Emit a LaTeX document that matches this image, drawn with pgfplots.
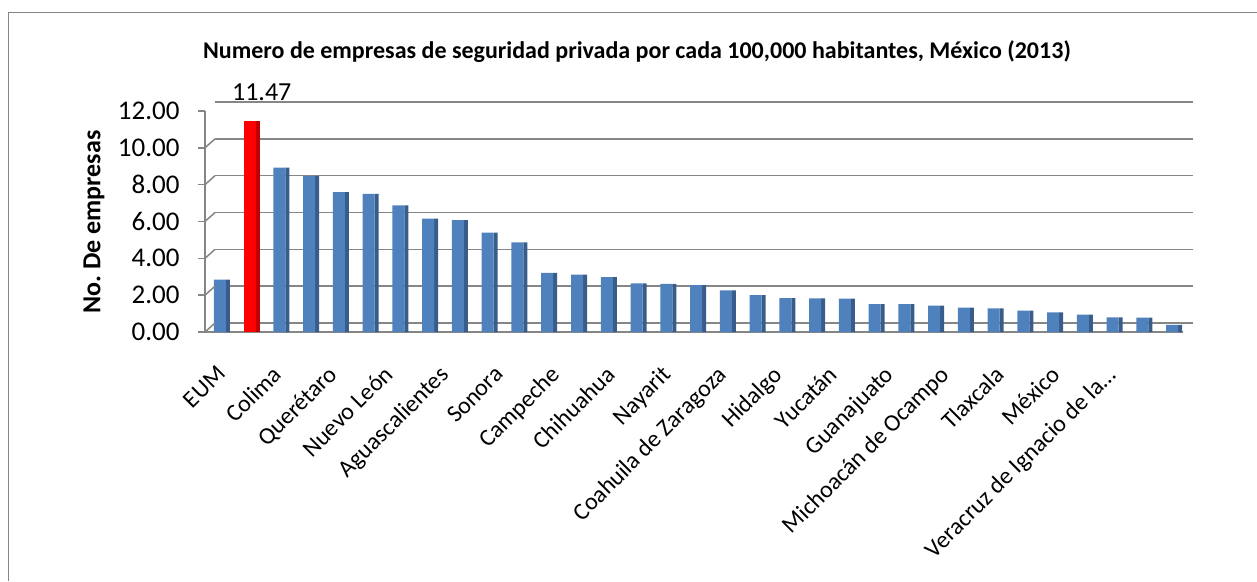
\documentclass[border=0pt]{standalone}
\usepackage{fontspec}
\setmainfont{Carlito}
\usepackage{pgfplots}
\usepackage{pgfplotstable}
\pgfplotsset{compat=1.18}
\definecolor{barblue}{RGB}{79,129,189}
\definecolor{sideblue}{RGB}{56,93,138}
\definecolor{barred}{RGB}{255,0,0}
\definecolor{sidered}{RGB}{192,0,0}
\definecolor{gridgray}{RGB}{134,134,134}

% estados (EUM = promedio nacional)
\pgfplotstableread{
x  v
0  2.85
2  8.93
3  8.48
4  7.59
5  7.50
6  6.87
7  6.16
8  6.07
9  5.39
10 4.86
11 3.21
12 3.12
13 2.98
14 2.64
15 2.62
16 2.55
17 2.26
18 2.00
19 1.84
20 1.82
21 1.81
22 1.51
23 1.51
24 1.43
25 1.32
26 1.28
27 1.16
28 1.07
29 0.94
30 0.80
31 0.78
32 0.39
}\blue
\pgfplotstableread{
x  v
1  11.47
}\red

\begin{document}
\begin{tikzpicture}
\useasboundingbox (-205pt,-249pt) rectangle (1052pt,332pt);
\draw[gridgray, line width=1.8pt] (-196.5pt,-249pt) -- (-196.5pt,319.5pt) -- (1052pt,319.5pt);
\begin{axis}[
    scale only axis,
    width=978pt, height=221pt,
    ybar,
    xmin=-0.504, xmax=32.37,
    ymin=0, ymax=12,
    ytick distance=2,
    % las etiquetas de Excel (3D) no caen justo bajo las barras
    xtick={0.067,1.936,3.805,5.674,7.543,9.412,11.281,13.150,15.019,16.888,18.757,20.626,22.495,24.364,26.233,28.102,29.971},
    xticklabels={EUM,Colima,Querétaro,Nuevo León,Aguascalientes,Sonora,Campeche,Chihuahua,Nayarit,Coahuila de Zaragoza,Hidalgo,Yucatán,Guanajuato,Michoacán de Ocampo,Tlaxcala,México,Veracruz de Ignacio de la…},
    xtick style={draw=none},
    ytick style={gridgray, line width=1.5pt},
    tick align=outside,
    major tick length=7pt,
    axis x line*=bottom,
    axis y line*=left,
    axis line style={gridgray, line width=1.5pt},
    ymajorgrids,
    major grid style={gridgray, line width=1.5pt, xshift=10pt, yshift=9pt},
    /pgf/number format/assume math mode=true,
    yticklabel={\pgfmathprintnumber[fixed,fixed zerofill,precision=2]{\tick}},
    yticklabel style={font=\fontsize{27}{30}\selectfont, xshift=-15pt},
    xticklabel style={font=\fontsize{24}{27}\selectfont, rotate=45, anchor=north east, xshift=-19pt, yshift=-10pt},
]
\addplot[fill=sideblue, draw=none, bar width=4pt, bar shift=8pt] table[x=x,y=v]{\blue};
\addplot[fill=barblue, draw=none, bar width=12pt, bar shift=0pt] table[x=x,y=v]{\blue};
\addplot[fill=sidered, draw=none, bar width=4pt, bar shift=8pt] table[x=x,y=v]{\red};
\addplot[fill=barred, draw=none, bar width=12pt, bar shift=0pt,
    nodes near coords={\pgfmathprintnumber[fixed,fixed zerofill,precision=2]{\pgfplotspointmeta}},
    nodes near coords style={font=\fontsize{26}{29}\selectfont, text=black, xshift=12pt, yshift=17pt}]
    table[x=x,y=v]{\red};
\pgfplotsinvokeforeach{0,2,...,12}{
  \draw[gridgray, line width=1.5pt] (axis cs:-0.504,#1) -- ++(10pt,9pt);
}
\draw[gridgray, line width=1.5pt] (axis cs:32.37,0) -- ++(10pt,9pt);
\end{axis}
\node[font=\bfseries\fontsize{24}{28}\selectfont] at (432pt,280pt)
  {Numero de empresas de seguridad privada por cada 100,000 habitantes, México (2013)};
\node[rotate=90, font=\bfseries\fontsize{26}{30}\selectfont] at (-111pt,110pt) {No.\ De empresas};
\end{tikzpicture}
\end{document}
